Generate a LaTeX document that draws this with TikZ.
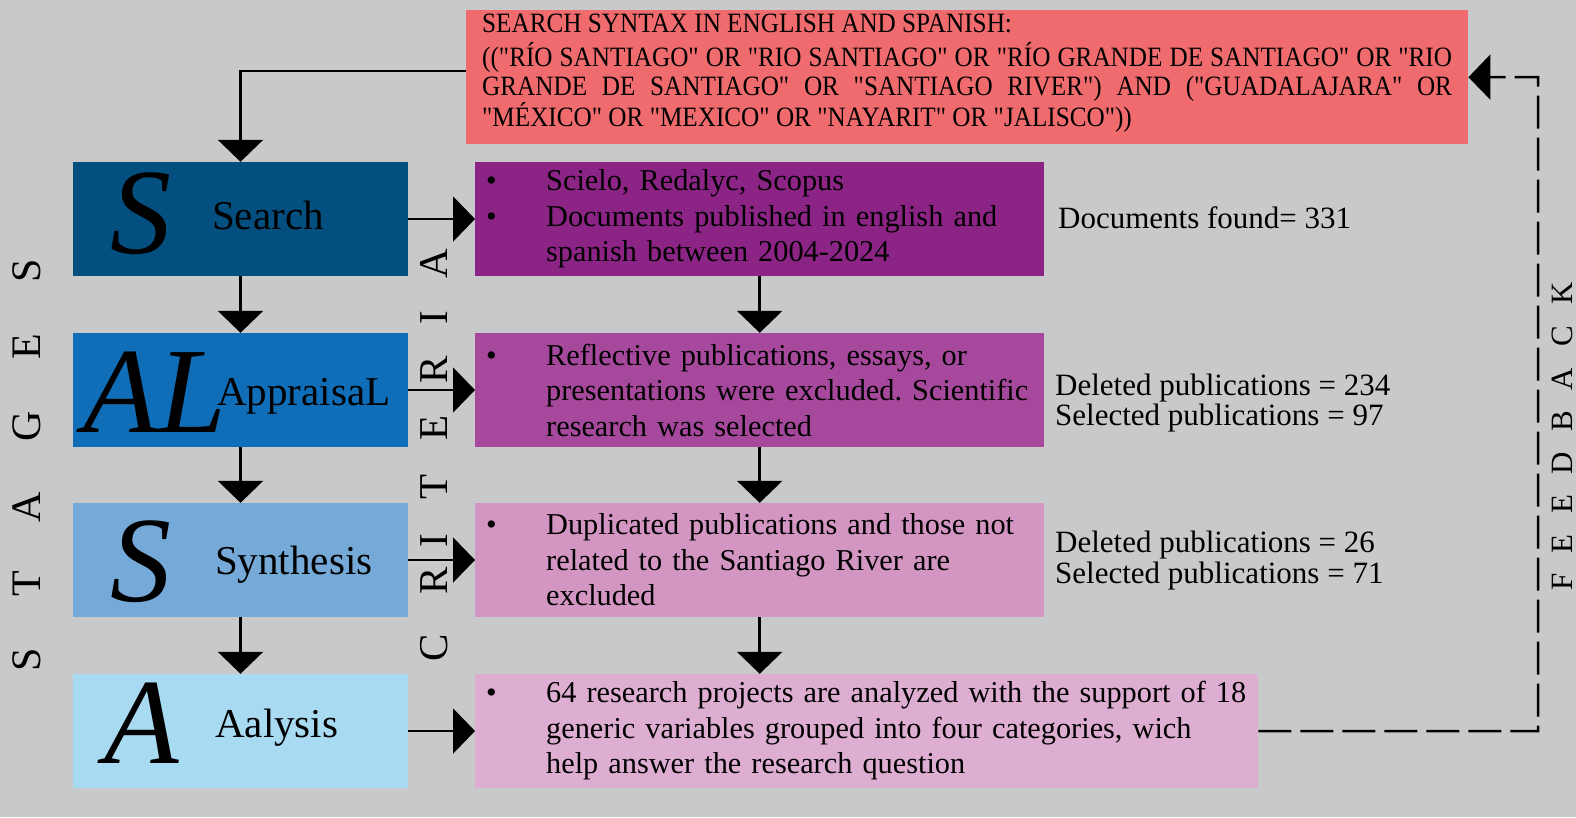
\documentclass[tikz,border=0pt]{standalone}
\usepackage{fontspec}
\setmainfont{Liberation Serif}
\newfontfamily\syntaxfont[FakeStretch=0.9]{Liberation Serif}
\usetikzlibrary{arrows.meta}

\definecolor{bggray}{HTML}{C8C9CB}
\definecolor{syntaxred}{HTML}{EF6B6D}
\definecolor{searchblue}{HTML}{034F80}
\definecolor{appraisalblue}{HTML}{0F6EB7}
\definecolor{synthesisblue}{HTML}{75AAD8}
\definecolor{analysisblue}{HTML}{A8DAF2}
\definecolor{critA}{HTML}{8C2486}
\definecolor{critB}{HTML}{A6499C}
\definecolor{critC}{HTML}{D395C1}
\definecolor{critD}{HTML}{DEAED2}

\newcommand\bul[1]{\mbox{\hspace*{11pt}\makebox[60pt][l]{\textbullet}#1}}
\newcommand\nobul[1]{\mbox{\hspace*{71pt}#1}}
\newcommand\qt{\char34\relax}

\tikzset{
  stagebox/.style={rectangle, minimum width=335pt, minimum height=114pt, inner sep=0pt},
  critbox/.style={rectangle, anchor=west, minimum height=114pt, inner xsep=0pt,
    align=left, font=\fontsize{30.3}{35.5}\selectfont\frenchspacing},
  bigletter/.style={anchor=base, inner sep=0pt, font=\fontsize{122}{122}\selectfont\itshape},
  stagename/.style={anchor=base west, inner sep=0pt, font=\fontsize{41}{41}\selectfont},
  sidenote/.style={anchor=base west, inner sep=0pt, font=\fontsize{31}{31}\selectfont},
  spaced/.style={rotate=90, inner sep=0pt, font=\fontsize{42}{42}\selectfont},
  conn/.style={line width=2.5pt, -{Triangle[width=45pt,length=22pt]}},
}

\begin{document}
\begin{tikzpicture}[x=1pt,y=-1pt]
\useasboundingbox (0,0) rectangle (1576,817);
\fill[bggray] (0,0) rectangle (1576,817);
%% search syntax
\node[rectangle, fill=syntaxred, anchor=north west, inner xsep=16pt, inner ysep=0pt,
  minimum height=134pt, text width=970pt, align=justify,
  font=\syntaxfont\fontsize{28}{29.5}\selectfont] (syntax) at (466,10)
  {SEARCH SYNTAX IN ENGLISH AND SPANISH:\vadjust{\vskip4.5pt}\hfill\break
  ((\qt RÍO SANTIAGO\qt{} OR \qt RIO SANTIAGO\qt{} OR \qt RÍO GRANDE DE SANTIAGO\qt{} OR \qt RIO\linebreak
  GRANDE DE SANTIAGO\qt{} OR \qt SANTIAGO RIVER\qt) AND (\qt GUADALAJARA\qt{} OR\linebreak
  \qt MÉXICO\qt{} OR \qt MEXICO\qt{} OR \qt NAYARIT\qt{} OR \qt JALISCO\qt))\rule[-14pt]{0pt}{14pt}};
%% stages
\node[stagebox, fill=searchblue] (search) at (240.5,219) {};
\node[stagebox, fill=appraisalblue] (appraisal) at (240.5,390) {};
\node[stagebox, fill=synthesisblue] (synthesis) at (240.5,560) {};
\node[stagebox, fill=analysisblue] (analysis) at (240.5,731) {};
\node[bigletter] (bigS) at (141,253) {S};
\node[bigletter] (bigAL) at (155,432) {AL};
\node[bigletter] (bigSS) at (141,601) {S};
\node[bigletter] (bigA) at (142,763) {A};
\node[stagename] (searchname) at (212,229) {Search};
\node[stagename] (appraisalname) at (217,405) {AppraisaL};
\node[stagename] (synthesisname) at (215,574) {Synthesis};
\node[stagename] (analysisname) at (215,737) {Aalysis};
%% criteria
\node[critbox, fill=critA, text width=569pt] (crit1) at (475,219)
  {\bul{Scielo, Redalyc, Scopus}\\
   \bul{Documents published in english and}\\
   \nobul{spanish between 2004-2024}};
\node[critbox, fill=critB, text width=569pt] (crit2) at (475,390)
  {\bul{Reflective publications, essays, or}\\
   \nobul{presentations were excluded. Scientific}\\
   \nobul{research was selected}};
\node[critbox, fill=critC, text width=569pt] (crit3) at (475,560)
  {\bul{Duplicated publications and those not}\\
   \nobul{related to the Santiago River are}\\
   \nobul{excluded}};
\node[critbox, fill=critD, text width=783pt] (crit4) at (475,731)
  {\bul{64 research projects are analyzed with the support of 18}\\
   \nobul{generic variables grouped into four categories, wich}\\
   \nobul{help answer the research question}};
%% counts
\node[sidenote] (found) at (1058,228) {Documents found= 331};
\node[sidenote] (deleted1) at (1055,395) {Deleted publications = 234};
\node[sidenote] (selected1) at (1055,425) {Selected publications = 97};
\node[sidenote] (deleted2) at (1055,552) {Deleted publications = 26};
\node[sidenote] (selected2) at (1055,583) {Selected publications = 71};
%% side words
\foreach \l/\p in {S/660,T/584,A/507,G/426,E/347,S/271}
  \node[spaced] (stages-\p) at (27,\p) {\l};
\foreach \l/\p in {C/648,R/581,I/541,T/487,E/428,R/370,I/318,A/264}
  \node[spaced, font=\fontsize{41}{41}\selectfont] (criteria-\p) at (434,\p) {\l};
\foreach \l/\p in {F/582,E/544,E/504,D/463,B/421,A/379,C/336,K/293}
  \node[spaced, font=\fontsize{31}{31}\selectfont] (feedback-\p) at (1562,\p) {\l};
%% arrows
\draw[conn] ([yshift=6pt]syntax.west) -| (search.north);
\draw[conn] (search) -- (appraisal);
\draw[conn] (appraisal) -- (synthesis);
\draw[conn] (synthesis) -- (analysis);
\draw[conn] (search) -- (crit1);
\draw[conn] (appraisal) -- (crit2);
\draw[conn] (synthesis) -- (crit3);
\draw[conn] (analysis) -- (crit4);
\draw[conn] (crit1) -- (crit2);
\draw[conn] (crit2) -- (crit3);
\draw[conn] (crit3.south) -- (crit3.south |- crit4.north);
%% feedback
\coordinate (fbturn) at (1538,77);
\draw[conn, dash pattern=on 33pt off 9pt] (crit4.east) -| (fbturn) -- (syntax.east);
\end{tikzpicture}
\end{document}
